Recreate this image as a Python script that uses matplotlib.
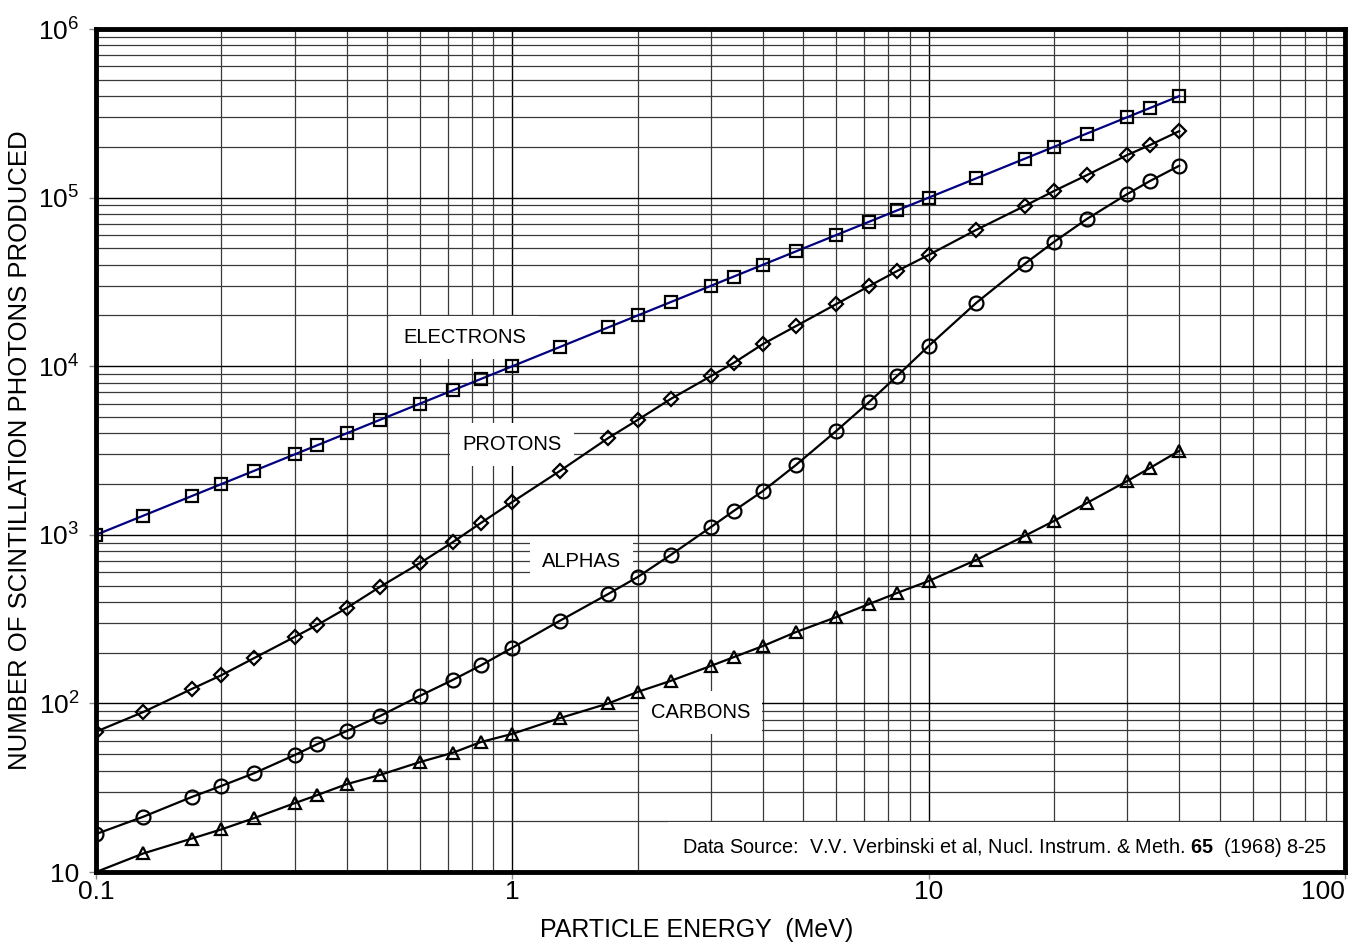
import matplotlib
matplotlib.use("Agg")
import matplotlib.pyplot as plt
from matplotlib.ticker import FixedLocator, FixedFormatter, LogLocator, NullFormatter

plt.rcParams["font.family"] = ["Liberation Sans", "DejaVu Sans"]
plt.rcParams["mathtext.fontset"] = "custom"
plt.rcParams["mathtext.rm"] = "Liberation Sans"
plt.rcParams["mathtext.it"] = "Liberation Sans"
plt.rcParams["mathtext.bf"] = "Liberation Sans:bold"

# Particle energy (MeV), common to all series
energy = [0.1, 0.13, 0.17, 0.2, 0.24, 0.3, 0.34, 0.4, 0.48, 0.6, 0.72, 0.84,
          1.0, 1.3, 1.7, 2.0, 2.4, 3.0, 3.4, 4.0, 4.8, 6.0, 7.2, 8.4,
          10, 13, 17, 20, 24, 30, 34, 40]

electrons = [1000, 1300, 1700, 2000, 2400, 3000, 3400, 4000, 4800, 6000, 7200, 8400,
             10000, 13000, 17000, 20000, 24000, 30000, 34000, 40000, 48000, 60000,
             72000, 84000, 100000, 130000, 170000, 200000, 240000, 300000, 340000, 400000]

protons = [68, 89, 122, 147, 186, 248, 292, 368, 490, 680, 906, 1175,
           1566, 2390, 3750, 4800, 6390, 8740, 10450, 13540, 17300, 23370,
           29900, 36700, 45700, 64300, 89200, 109400, 136000, 179000, 205000, 248000]

alphas = [16.8, 21.3, 27.9, 32.4, 38.6, 49.4, 57.4, 68.6, 84, 111, 138, 168,
          214, 309, 446, 562, 759, 1112, 1384, 1820, 2595, 4130,
          6140, 8750, 13180, 23700, 40400, 54600, 74700, 105000, 125400, 154600]

carbons = [10, 12.9, 15.8, 17.9, 20.9, 25.6, 28.6, 33.2, 37.6, 44.9, 51, 59,
           66, 81.8, 100, 117, 136, 167, 188, 219, 265, 325,
           389, 452, 532, 709, 985, 1208, 1545, 2085, 2490, 3150]

series_names = ["ELECTRONS", "PROTONS", "ALPHAS", "CARBONS"]

y_ticks = [10, 1e2, 1e3, 1e4, 1e5, 1e6]
y_labels = ["10", "$10^2$", "$10^3$", "$10^4$", "$10^5$", "$10^6$"]
x_ticks = [0.1, 1, 10, 100]
x_labels = ["0.1", "1", "10", "100"]


def main():
    fig = plt.figure(figsize=(13.64, 9.46), dpi=100)
    ax = fig.add_axes([0.0704, 0.0782, 0.9156, 0.8911])

    mk = dict(markersize=8, markerfacecolor="none", markeredgewidth=1.6,
              markeredgecolor="black", linewidth=1.6)
    ax.plot(energy, electrons, color="#000080", marker="s", zorder=5, **mk)
    ax.plot(energy, protons, color="black", marker="D", zorder=5,
            **{**mk, "markersize": 7})
    ax.plot(energy, alphas, color="black", marker="o", zorder=5,
            **{**mk, "markersize": 10})
    ax.plot(energy, carbons, color="black", marker="^", zorder=5, **mk)

    ax.set_xscale("log")
    ax.set_yscale("log")
    ax.set_xlim(0.1, 100)
    ax.set_ylim(10, 1e6)

    ax.xaxis.set_major_locator(FixedLocator(x_ticks))
    ax.xaxis.set_major_formatter(FixedFormatter(x_labels))
    ax.yaxis.set_major_locator(FixedLocator(y_ticks))
    ax.yaxis.set_major_formatter(FixedFormatter(y_labels))
    ax.xaxis.set_minor_locator(LogLocator(base=10, subs=range(2, 10)))
    ax.yaxis.set_minor_locator(LogLocator(base=10, subs=range(2, 10)))
    ax.xaxis.set_minor_formatter(NullFormatter())
    ax.yaxis.set_minor_formatter(NullFormatter())

    ax.grid(True, which="major", color="black", linewidth=1.0, zorder=0)
    ax.grid(True, which="minor", color="#3a3a3a", linewidth=0.9, zorder=0)
    ax.set_axisbelow(True)

    ax.tick_params(which="major", direction="out", length=5, width=1,
                   labelsize=19, color="#888888")
    ax.tick_params(axis="y", which="major", pad=7)
    ax.tick_params(axis="x", which="major", pad=1)
    ax.tick_params(which="minor", length=0)
    for s in ax.spines.values():
        s.set_linewidth(3.5)
        s.set_zorder(6)

    # the "100" label sits flush with the right edge in the original
    fig.canvas.draw()
    ax.get_xticklabels()[-1].set_horizontalalignment("right")

    ax.set_xlabel("PARTICLE ENERGY  (MeV)", fontsize=18, labelpad=10)
    ax.xaxis.label.set_x(0.481)
    ax.set_ylabel("NUMBER OF SCINTILLATION PHOTONS PRODUCED", fontsize=18.5,
                  labelpad=4)

    box = dict(facecolor="white", edgecolor="none", boxstyle="square,pad=0.6")
    label_pos = [(0.295, 0.634), (0.333, 0.507), (0.389, 0.368), (0.484, 0.189)]
    for name, (px, py) in zip(series_names, label_pos):
        ax.text(px, py, name, transform=ax.transAxes, fontsize=14.5,
                ha="center", va="center", bbox=box, zorder=4)

    ax.text(0.986, 0.029,
            r"Data Source:  V.V. Verbinski et al, Nucl. Instrum. & Meth. $\mathbf{65}$  (1968) 8-25",
            transform=ax.transAxes, fontsize=14.3, ha="right", va="center",
            bbox=dict(facecolor="white", edgecolor="none",
                      boxstyle="square,pad=0.7"), zorder=4)

    fig.savefig("out.png", dpi=100)


if __name__ == "__main__":
    main()
